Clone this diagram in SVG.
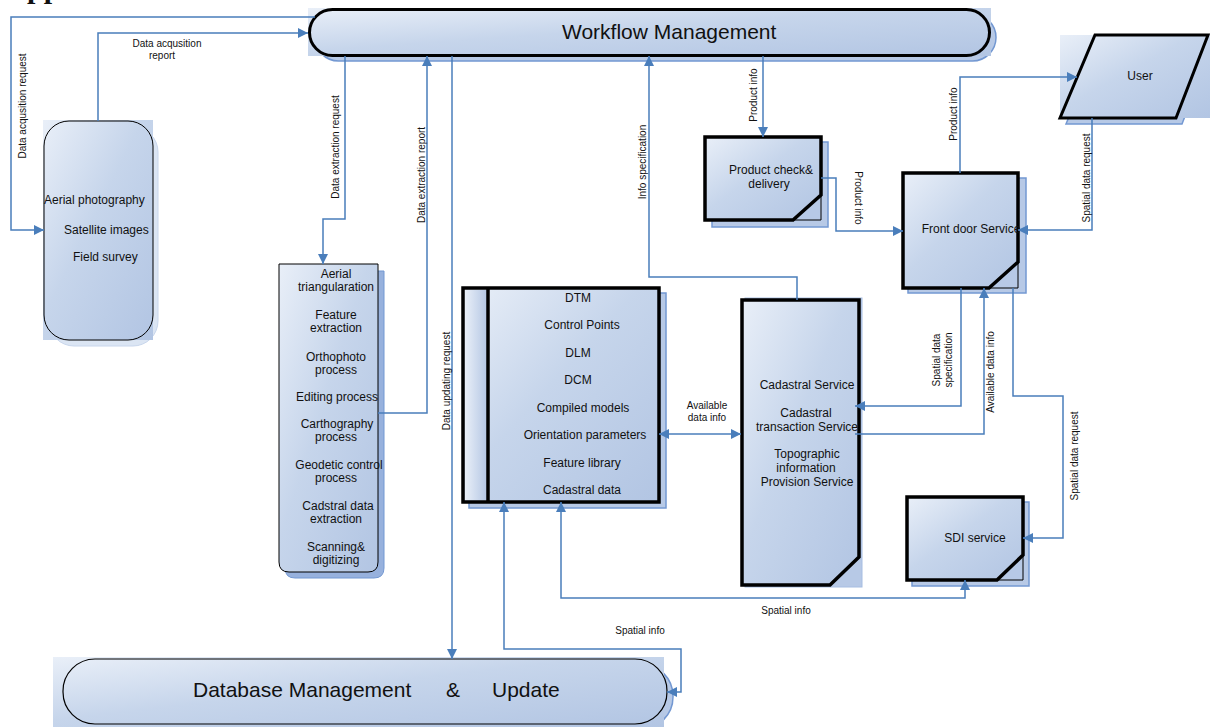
<svg xmlns="http://www.w3.org/2000/svg" width="1210" height="727" viewBox="0 0 1210 727">
<defs>
<linearGradient id="g" x1="0" y1="0" x2="1" y2="1">
<stop offset="0" stop-color="#e9eff8"/>
<stop offset="0.45" stop-color="#c6d5eb"/>
<stop offset="1" stop-color="#b2c5e3"/>
</linearGradient>
<linearGradient id="gh" x1="0" y1="0" x2="1" y2="0">
<stop offset="0" stop-color="#e9eff8"/>
<stop offset="1" stop-color="#b2c5e3"/>
</linearGradient>
<marker id="ah" viewBox="0 0 10 10" refX="10" refY="5" markerWidth="10" markerHeight="10" markerUnits="userSpaceOnUse" orient="auto-start-reverse">
<path d="M0,0 L10,5 L0,10 z" fill="#4a7ebb"/>
</marker>
</defs>
<style>
text{font-family:"Liberation Sans",Arial,sans-serif;fill:#111}
.n{font-size:12px;text-anchor:middle}
.l{font-size:10px;text-anchor:middle}
.big{font-size:21px}
.sh{fill:#b7c9e6;stroke:#7398d2;stroke-width:1.5}
.shl{fill:#dbe5f3;stroke:#c8d6ec;stroke-width:1}
.thick{fill:url(#g);stroke:#000;stroke-width:3.5;stroke-linejoin:miter}
.thin{stroke:#000;stroke-width:1}
.c{fill:none;stroke:#4a7ebb;stroke-width:1.5}
.e{marker-end:url(#ah)}
.s{marker-start:url(#ah)}
</style>

<text x="27" y="-2" style="font-family:'Liberation Serif',serif;font-size:30px;font-weight:bold">pp</text>

<g id="workflow">
<rect class="sh" x="315" y="14" width="681" height="47" rx="23.5"/>
<rect x="308" y="8" width="683" height="48" fill="url(#g)"/>
<rect x="309.5" y="9.5" width="680" height="46" rx="23" fill="none" stroke="#000" stroke-width="3"/>
<text class="big" x="562" y="39">Workflow Management</text>
</g>

<g id="acquisition">
<rect class="shl" x="49" y="127" width="109" height="219" rx="25"/>
<rect x="43" y="120" width="110" height="220" fill="url(#g)"/>
<rect x="44" y="121" width="109" height="219" rx="25" fill="none" stroke="#000" stroke-width="1"/>
<text x="44" y="204" style="font-size:12px">Aerial photography</text>
<text x="64" y="234" style="font-size:12px">Satellite images</text>
<text x="73" y="261" style="font-size:12px">Field survey</text>
</g>

<g id="processing">
<path d="M285,271 H384 V568 Q384,578 374,578 H295 Q285,578 285,568 Z" fill="#97b1dd" stroke="#7398d2" stroke-width="1"/>
<path d="M279,264 H378 V562 Q378,572 368,572 H289 Q279,572 279,562 Z" fill="url(#g)" stroke="#000" stroke-width="1"/>
<text class="n" x="336" y="278">Aerial</text>
<text class="n" x="336" y="291">triangularation</text>
<text class="n" x="336" y="319">Feature</text>
<text class="n" x="336" y="332">extraction</text>
<text class="n" x="336" y="361">Orthophoto</text>
<text class="n" x="336" y="374">process</text>
<text class="n" x="337" y="401">Editing process</text>
<text class="n" x="337" y="428">Carthography</text>
<text class="n" x="336" y="441">process</text>
<text class="n" x="339" y="469">Geodetic control</text>
<text class="n" x="336" y="482">process</text>
<text class="n" x="338" y="510">Cadstral data</text>
<text class="n" x="336" y="523">extraction</text>
<text class="n" x="336" y="551">Scanning&amp;</text>
<text class="n" x="336" y="564">digitizing</text>
</g>

<g id="datastore">
<rect class="sh" x="469" y="293" width="197" height="215"/>
<rect class="thick" x="463" y="288" width="196" height="214"/>
<rect x="465" y="290" width="23" height="210" fill="url(#gh)"/>
<line x1="488" y1="288" x2="488" y2="502" stroke="#000" stroke-width="3.5"/>
<text class="n" x="578" y="302">DTM</text>
<text class="n" x="582" y="329">Control Points</text>
<text class="n" x="578" y="357">DLM</text>
<text class="n" x="578" y="384">DCM</text>
<text class="n" x="583" y="412">Compiled models</text>
<text class="n" x="585" y="439">Orientation parameters</text>
<text class="n" x="582" y="467">Feature library</text>
<text class="n" x="582" y="494">Cadastral data</text>
</g>

<g id="cadastral">
<rect x="745" y="298" width="117" height="289" fill="#b7c9e6" stroke="#a6bde2" stroke-width="1"/>
<path class="thick" d="M742,300 H859 V557 L830,585 H742 Z"/>
<text class="n" x="807" y="389">Cadastral Service</text>
<text class="n" x="806" y="417">Cadastral</text>
<text class="n" x="807" y="431">transaction Service</text>
<text class="n" x="807" y="458">Topographic</text>
<text class="n" x="806" y="472">information</text>
<text class="n" x="807" y="486">Provision Service</text>
</g>

<g id="product">
<rect class="sh" x="712" y="142" width="116" height="85"/>
<path class="thick" d="M705,137 H821 V195 L793,220 H705 Z"/>
<path d="M821,195 V220 H793" class="thin" fill="none"/>
<text class="n" x="771" y="174">Product check&amp;</text>
<text class="n" x="769" y="188">delivery</text>
</g>

<g id="frontdoor">
<rect class="sh" x="908" y="178" width="118" height="115"/>
<path class="thick" d="M903,173 H1018 V262 L989,288 H903 Z"/>
<path d="M1018,262 V288 H989" class="thin" fill="none"/>
<text class="n" x="971" y="233">Front door Service</text>
</g>

<g id="user">
<polygon points="1101,41 1214,41 1182,124 1066,124" fill="#b7c9e6" stroke="#7398d2" stroke-width="1.5"/>
<rect x="1060" y="35" width="150" height="83" fill="url(#g)"/>
<polygon points="1095,35 1208,35 1176,118 1060,118" fill="none" stroke="#000" stroke-width="3"/>
<text class="n" x="1140" y="80">User</text>
</g>

<g id="sdi">
<rect class="sh" x="912" y="502" width="117" height="84"/>
<path class="thick" d="M907,497 H1023 V555 L997,580 H907 Z"/>
<path d="M1023,555 V580 H997" class="thin" fill="none"/>
<text class="n" x="975" y="542">SDI service</text>
</g>

<g id="database">
<rect class="sh" x="69" y="664" width="604" height="65" rx="32"/>
<rect x="53" y="657" width="611" height="70" fill="url(#g)"/>
<rect x="63" y="659" width="604" height="65" rx="32" fill="none" stroke="#000" stroke-width="1.2"/>
<text class="big" x="193" y="697">Database Management</text>
<text class="big" x="446" y="697">&amp;</text>
<text class="big" x="492" y="697">Update</text>
</g>

<g id="connectors">
<path class="c" d="M315,17 H11 V230 H44" marker-end="url(#ah)"/>
<path class="c" d="M98,121 V33 H308" marker-end="url(#ah)"/>
<path class="c" d="M345,56 V219 H323 V264" marker-end="url(#ah)"/>
<path class="c" d="M378,413 H427 V56" marker-end="url(#ah)"/>
<path class="c" d="M452,56 V659" marker-end="url(#ah)"/>
<path class="c" d="M797,300 V277 H649 V56" marker-end="url(#ah)"/>
<path class="c" d="M763,56 V137" marker-end="url(#ah)"/>
<path class="c" d="M821,178 H836 V231 H903" marker-end="url(#ah)"/>
<path class="c" d="M960,173 V77 H1077" marker-end="url(#ah)"/>
<path class="c" d="M1092,118 V230 H1018" marker-end="url(#ah)"/>
<path class="c" d="M961,288 V406 H855" marker-end="url(#ah)"/>
<path class="c" d="M855,434 H984 V288" marker-end="url(#ah)"/>
<path class="c" d="M1013,288 V396 H1063 V538 H1023" marker-end="url(#ah)"/>
<path class="c" d="M561,502 V598 H965 V580" marker-start="url(#ah)" marker-end="url(#ah)"/>
<path class="c" d="M504,502 V649 H681 V692 H667" marker-start="url(#ah)" marker-end="url(#ah)"/>
<path class="c" d="M659,434 H741" marker-start="url(#ah)" marker-end="url(#ah)"/>

<text class="l" transform="translate(22,106) rotate(-90)" dy="3.5">Data acqusition request</text>
<text class="l" x="167" y="47">Data acqusition</text>
<text class="l" x="162" y="59">report</text>
<text class="l" transform="translate(335,147) rotate(-90)" dy="3.5">Data extraction request</text>
<text class="l" transform="translate(421,175) rotate(-90)" dy="3.5">Data extraction report</text>
<text class="l" transform="translate(446,381) rotate(-90)" dy="3.5">Data updating request</text>
<text class="l" transform="translate(642,162) rotate(-90)" dy="3.5">Info specification</text>
<text class="l" transform="translate(753,95) rotate(-90)" dy="3.5">Product info</text>
<text class="l" transform="translate(858,198) rotate(90)" dy="3.5">Product info</text>
<text class="l" transform="translate(953,114) rotate(-90)" dy="3.5">Product info</text>
<text class="l" transform="translate(1086,178) rotate(-90)" dy="3.5">Spatial data request</text>
<text class="l" transform="translate(936,360) rotate(-90)" dy="3.5">Spatial data</text>
<text class="l" transform="translate(948,360) rotate(-90)" dy="3.5">specification</text>
<text class="l" transform="translate(990,372) rotate(-90)" dy="3.5">Available data info</text>
<text class="l" transform="translate(1074,456) rotate(-90)" dy="3.5">Spatial data request</text>
<text class="l" x="707" y="409">Available</text>
<text class="l" x="707" y="421">data info</text>
<text class="l" x="786" y="614">Spatial info</text>
<text class="l" x="640" y="634">Spatial info</text>
</g>
</svg>
